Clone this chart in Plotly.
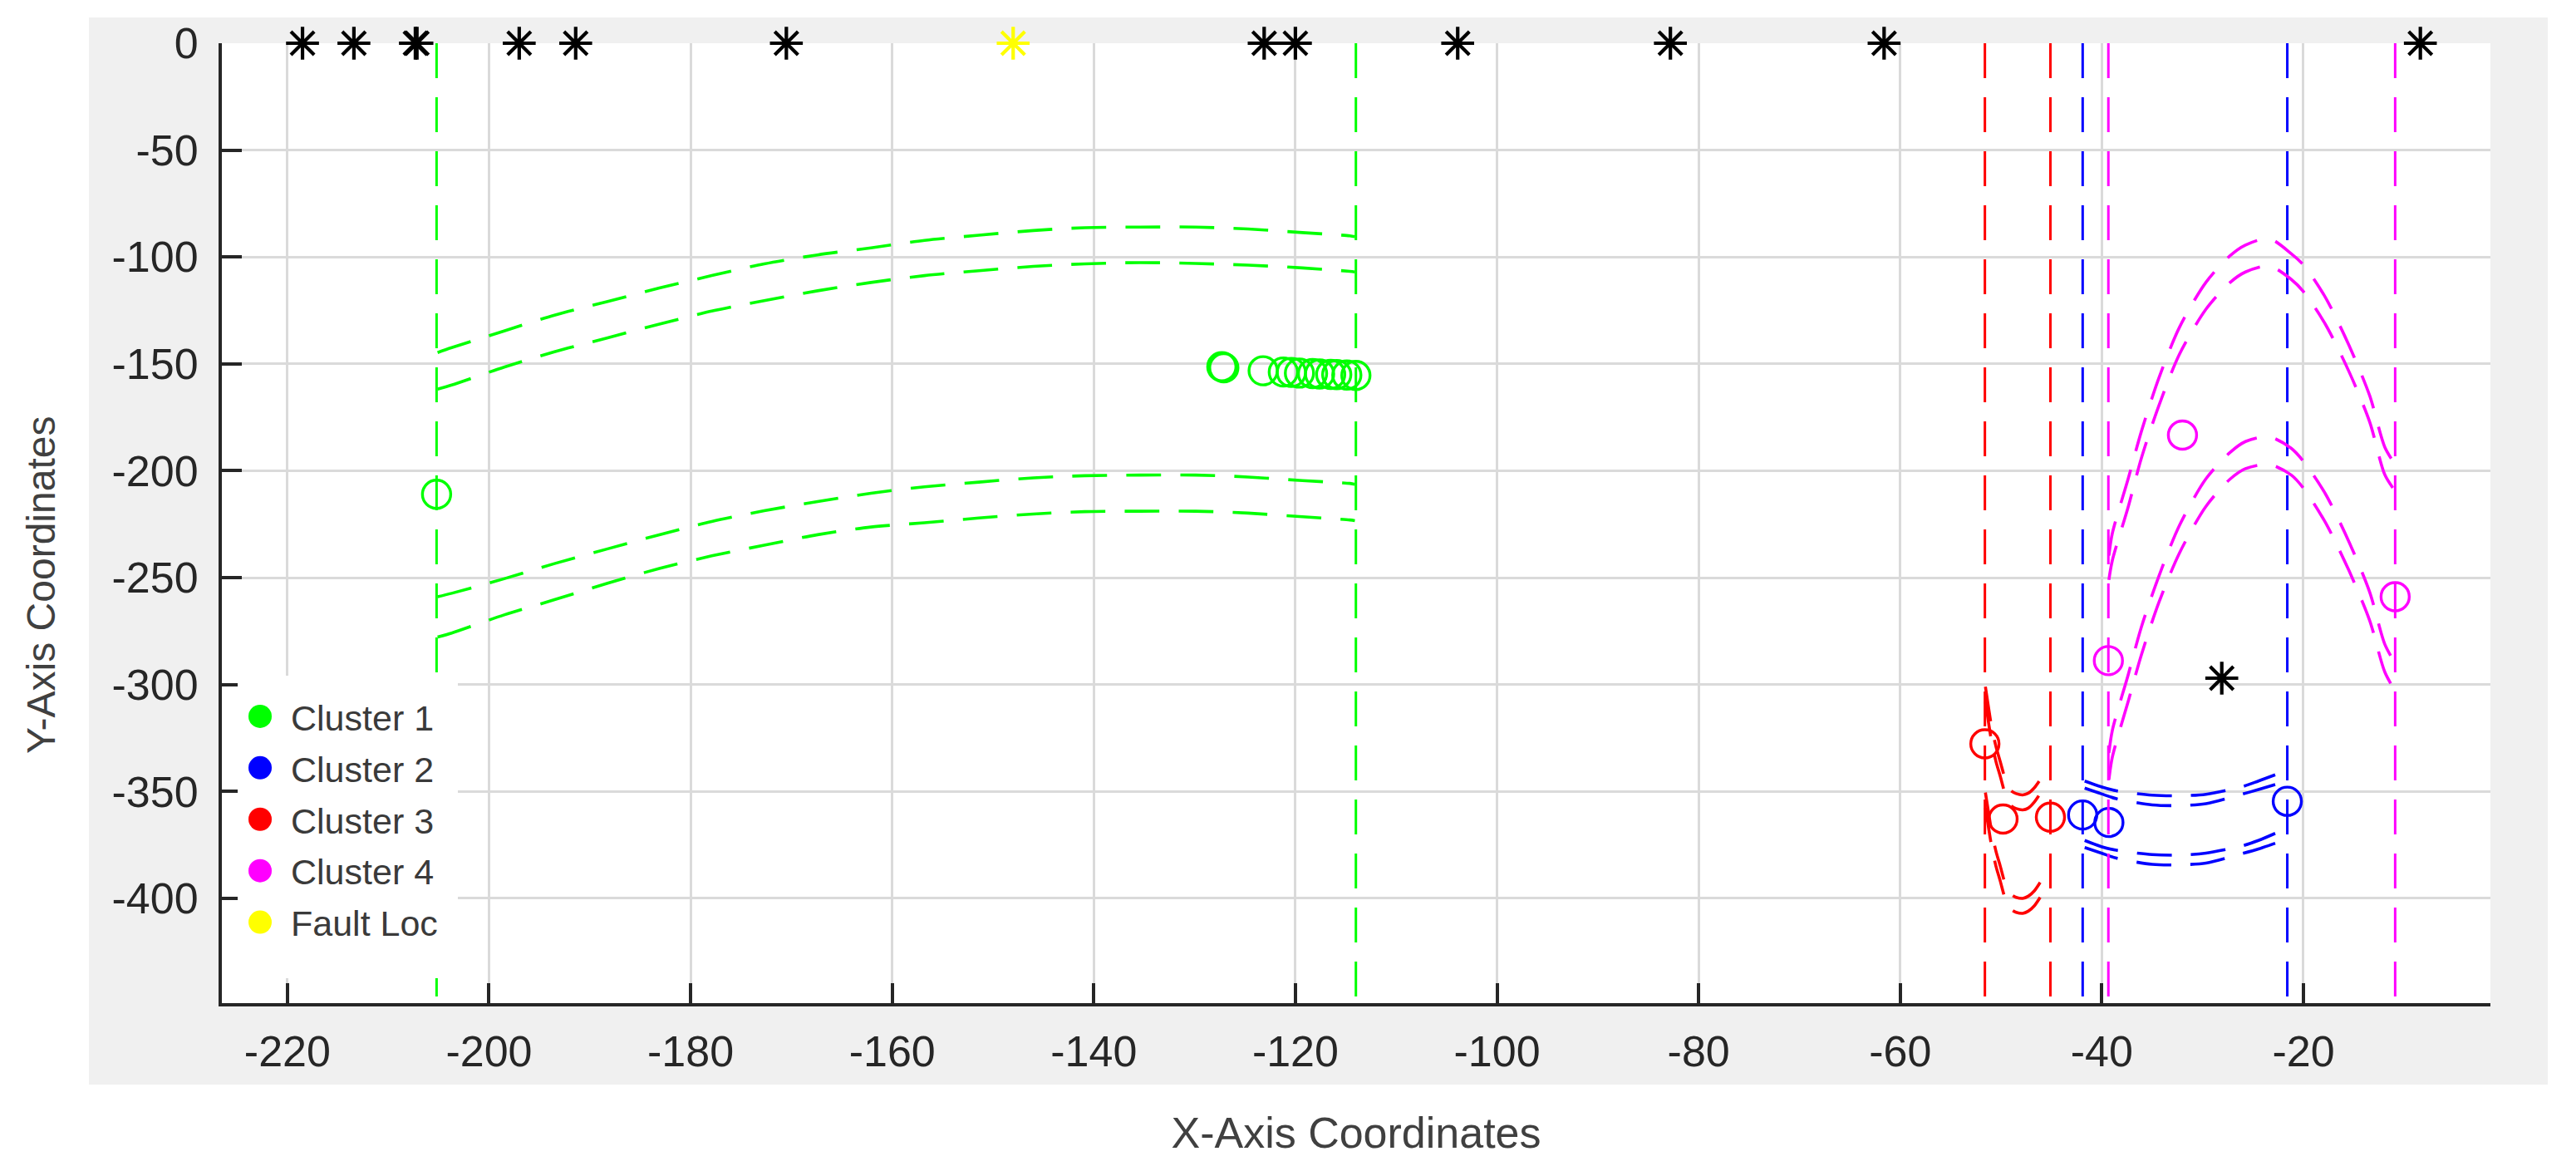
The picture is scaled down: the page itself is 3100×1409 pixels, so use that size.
import plotly.graph_objects as go

# ---------------- data ----------------
STAR_X = [-218.5, -213.4, -207.3, -207.15, -197.0, -191.4, -170.5, -123.1, -120.0,
          -103.9, -82.8, -61.6, -8.4, -28.1]
STAR_Y = [0, 0, 0, 0, 0, 0, 0, 0, 0, 0, 0, 0, 0, -297.0]
FAULT_X = [-148.0]
FAULT_Y = [0.0]

C1_X = [-205.2, -127.3, -127.1, -123.2, -121.2, -120.4, -119.6, -118.3, -117.6,
        -116.5, -115.9, -114.9, -114.0]
C1_Y = [-211.0, -151.3, -151.8, -153.2, -153.8, -154.0, -154.3, -154.5, -154.7,
        -154.9, -155.0, -155.2, -155.4]
C2_X = [-41.9, -39.3, -21.6]
C2_Y = [-361.0, -364.5, -354.6]
C3_X = [-51.6, -49.8, -45.1]
C3_Y = [-327.7, -362.9, -362.0]
C4_X = [-39.35, -32.0, -10.9]
C4_Y = [-288.8, -183.3, -258.9]

# cluster 1 bound curves
G_X = [-205.1, -203.7, -198.5, -193.5, -188.3, -183.1, -177.9, -172.7, -167.4, -162.1,
       -156.8, -151.4, -146.0, -140.9, -135.4, -129.9, -124.7, -119.3, -114.6, -114.1]
G_A = [-144.7, -142.4, -134.6, -127.2, -120.9, -114.5, -108.7, -103.2, -99.0, -95.7,
       -92.2, -89.8, -87.6, -86.3, -86.0, -86.0, -86.9, -88.6, -90.1, -90.5]
G_B = [-161.8, -159.9, -151.5, -144.3, -137.9, -131.4, -125.3, -120.4, -115.8, -111.9,
       -108.7, -106.4, -104.4, -103.2, -102.6, -103.0, -103.8, -105.1, -106.7, -107.0]
G_C = [-258.9, -257.3, -250.5, -243.4, -236.6, -229.9, -223.7, -218.7, -214.4, -210.5,
       -207.5, -205.3, -203.3, -202.3, -202.0, -202.0, -202.9, -204.6, -205.9, -206.3]
G_D = [-277.8, -275.9, -267.4, -260.3, -252.7, -245.7, -239.8, -234.8, -229.9, -226.3,
       -224.3, -222.1, -220.2, -219.1, -218.9, -218.9, -219.8, -221.5, -223.0, -223.3]

# cluster 2 bound curves
B_X = [-41.7, -40.05, -38.55, -35.0, -32.3, -29.66, -26.1, -24.46, -22.8]
B_1 = [-345.1, -347.8, -349.7, -351.7, -352.0, -351.3, -347.8, -345.1, -342.2]
B_2 = [-348.4, -351.1, -353.4, -356.3, -356.6, -355.7, -351.3, -349.1, -346.8]
B_3 = [-372.9, -375.8, -377.5, -379.5, -379.8, -378.8, -375.5, -372.9, -369.6]
B_4 = [-376.2, -378.8, -381.2, -384.1, -384.3, -383.5, -379.1, -376.9, -374.2]

# cluster 3 bound curves
R_X = [-51.55, -51.2, -50.9, -50.5, -50.07, -49.7, -49.38, -48.9, -48.5, -47.85,
       -47.3, -46.7, -46.05]
R_1 = [-301.0, -312.0, -320.6, -329.0, -336.2, -342.5, -347.5, -350.0, -351.0, -351.6,
       -350.8, -348.3, -344.0]
R_2 = [-308.0, -319.0, -327.5, -336.0, -343.0, -349.5, -354.5, -357.0, -358.0, -358.6,
       -357.8, -355.0, -350.5]
R_3 = [-350.5, -361.0, -369.5, -378.0, -385.0, -391.5, -396.0, -398.5, -399.5, -400.0,
       -399.0, -396.5, -392.0]
R_4 = [-357.5, -368.0, -376.5, -385.0, -392.0, -398.5, -403.0, -405.5, -406.5, -407.0,
       -406.0, -403.5, -399.0]

# cluster 4 bound curves
M_X = [-39.3, -38.96, -37.39, -36.07, -34.34, -32.3, -29.68, -27.3, -25.75, -23.4,
       -21.2, -19.94, -17.83, -15.47, -13.43, -11.92, -10.9]
M_1 = [-239.7, -229.3, -203.8, -181.5, -156.6, -132.9, -111.9, -99.5, -94.4, -91.4,
       -98.5, -104.0, -118.8, -141.4, -164.8, -189.0, -197.0]
M_2 = [-251.0, -242.0, -217.0, -194.0, -169.5, -145.5, -124.5, -112.0, -107.0, -104.2,
       -110.5, -116.5, -131.4, -153.7, -177.1, -201.9, -209.5]
M_3 = [-332.0, -321.5, -295.5, -273.0, -249.3, -225.6, -203.8, -191.5, -186.3, -184.1,
       -189.5, -195.9, -210.7, -233.3, -256.7, -281.2, -290.0]
M_4 = [-344.5, -334.0, -308.0, -286.0, -261.6, -238.5, -216.7, -204.0, -199.0, -197.0,
       -202.0, -208.5, -224.1, -246.8, -270.0, -294.2, -303.0]

X_RANGE = [-226.5, -1.45]
Y_RANGE = [-449.0, 0.0]
X_TICKS = [-220, -200, -180, -160, -140, -120, -100, -80, -60, -40, -20]
X_TICK_LABELS = ["-220", "-200", "-180", "-160", "-140", "-120", "-100", "-80", "-60", "-40", "-20"]
Y_TICKS = [-400, -350, -300, -250, -200, -150, -100, -50, 0]
Y_TICK_LABELS = ["-400", "-350", "-300", "-250", "-200", "-150", "-100", "-50", "0"]

NAMES = ["Cluster 1", "Cluster 2", "Cluster 3", "Cluster 4", "Fault Loc"]
COLORS = ["#00ff00", "#0000ff", "#ff0000", "#ff00ff", "#ffff00"]

# ---------------- figure ----------------
FONT = "Liberation Sans, Arial, Helvetica, sans-serif"
DASH = "42px,23px"
PAGE = 8                      # default body margin of the html page
W, H = 3100 - PAGE, 1409 - PAGE
L, T = 267 - PAGE, 52 - PAGE
PW, PH = 2730, 1155
R, B = W - L - PW, H - T - PH


def px_x(p):  # page pixel -> paper x
    return (p - PAGE - L) / PW


def px_y(p):  # page pixel -> paper y
    return (T + PH - (p - PAGE)) / PH


fig = go.Figure()

clusters = [
    (C1_X, C1_Y, COLORS[0], G_X, [G_A, G_B, G_C, G_D]),
    (C2_X, C2_Y, COLORS[1], B_X, [B_1, B_2, B_3, B_4]),
    (C3_X, C3_Y, COLORS[2], R_X, [R_1, R_2, R_3, R_4]),
    (C4_X, C4_Y, COLORS[3], M_X, [M_1, M_2, M_3, M_4]),
]

for cx, cy, col, bx, curves in clusters:
    lo, hi = min(cx), max(cx)
    fig.add_trace(go.Scatter(
        x=[lo, lo, None, hi, hi],
        y=[Y_RANGE[1], Y_RANGE[0], None, Y_RANGE[1], Y_RANGE[0]],
        mode="lines", line=dict(color=col, width=3, dash=DASH),
        showlegend=False, hoverinfo="skip"))
    for cv in curves:
        fig.add_trace(go.Scatter(
            x=bx, y=cv, mode="lines",
            line=dict(color=col, width=3.6, dash=DASH, shape="spline", smoothing=0.8),
            showlegend=False, hoverinfo="skip"))
    fig.add_trace(go.Scatter(
        x=cx, y=cy, mode="markers",
        marker=dict(symbol="circle-open", size=34, color=col, line=dict(width=3.4, color=col)),
        showlegend=False))

fig.add_trace(go.Scatter(
    x=STAR_X, y=STAR_Y, mode="markers", cliponaxis=False,
    marker=dict(symbol="asterisk-open", size=33, color="#000000", line=dict(width=4.2, color="#000000")),
    showlegend=False))
fig.add_trace(go.Scatter(
    x=FAULT_X, y=FAULT_Y, mode="markers", cliponaxis=False,
    marker=dict(symbol="asterisk-open", size=33, color=COLORS[4], line=dict(width=4.2, color=COLORS[4])),
    showlegend=False))

# legend entries (filled dots, as in the reference legend)
for i, (nm, col) in enumerate(zip(NAMES, COLORS)):
    fig.add_trace(go.Scatter(
        x=[None], y=[None], mode="markers", name=nm, legendgroup="g%d" % i,
        marker=dict(symbol="circle", size=16, color=col, line=dict(width=5, color=col))))

# legend geometry (page pixels)
LEG_FONT = 43
LEG_ITEMW = 64
LEG_GAP = 3
LEG_LEFT = 276
LEG_TOP = 827.5
ROW_H = LEG_FONT * 1.3 + 3
DOT_X = LEG_LEFT + 5 + LEG_ITEMW / 2
DOT_R = 14

shapes = [
    # grey figure panel
    dict(type="rect", xref="paper", yref="paper", layer="below",
         x0=px_x(107), x1=px_x(3066), y0=px_y(1305), y1=px_y(21),
         fillcolor="#f0f0f0", line=dict(width=0)),
    # white axes area
    dict(type="rect", xref="paper", yref="paper", layer="below",
         x0=0, x1=1, y0=0, y1=1, fillcolor="#ffffff", line=dict(width=0)),
    # legend box (covers what lies beneath it)
    dict(type="rect", xref="paper", yref="paper", layer="above",
         x0=px_x(286), x1=px_x(551), y0=px_y(1177), y1=px_y(813),
         fillcolor="#ffffff", line=dict(width=0)),
]
# larger legend dots underneath the (size-capped) legend symbols
for i, col in enumerate(COLORS):
    cyp = LEG_TOP + 5 + ROW_H / 2 + i * (ROW_H + LEG_GAP)
    shapes.append(dict(type="circle", xref="paper", yref="paper", layer="above",
                       x0=px_x(DOT_X - DOT_R), x1=px_x(DOT_X + DOT_R),
                       y0=px_y(cyp + DOT_R), y1=px_y(cyp - DOT_R),
                       fillcolor=col, line=dict(width=0)))

fig.update_layout(
    width=W, height=H, autosize=False,
    margin=dict(l=L, r=R, t=T, b=B, pad=0),
    paper_bgcolor="#ffffff", plot_bgcolor="#ffffff",
    font=dict(family=FONT, size=52, color="#262626"),
    shapes=shapes,
    showlegend=True,
    legend=dict(x=px_x(LEG_LEFT), xanchor="left", y=px_y(LEG_TOP), yanchor="top",
                bgcolor="rgba(0,0,0,0)", borderwidth=0, itemwidth=LEG_ITEMW,
                tracegroupgap=LEG_GAP, font=dict(family=FONT, size=LEG_FONT, color="#3a3a3a")),
    annotations=[
        dict(text="Y-Axis Coordinates", xref="paper", yref="paper",
             x=px_x(49), y=px_y(704), xanchor="center", yanchor="middle",
             textangle=-90, showarrow=False,
             font=dict(family=FONT, size=48, color="#404040")),
    ],
)

fig.update_xaxes(
    range=X_RANGE, tickmode="array", tickvals=X_TICKS, ticktext=X_TICK_LABELS,
    showgrid=True, gridcolor="#dadada", gridwidth=3, zeroline=False,
    showline=True, linecolor="#262626", linewidth=4, mirror=False,
    ticks="inside", ticklen=24, tickwidth=3.5, tickcolor="#262626",
    ticklabelstandoff=10, tickfont=dict(size=52, color="#262626", family=FONT),
    title=dict(text="X-Axis Coordinates", standoff=52,
               font=dict(size=52, color="#404040", family=FONT)),
    automargin=False,
)
fig.update_yaxes(
    range=Y_RANGE, tickmode="array", tickvals=Y_TICKS, ticktext=Y_TICK_LABELS,
    showgrid=True, gridcolor="#dadada", gridwidth=3, zeroline=False,
    showline=True, linecolor="#262626", linewidth=4, mirror=False,
    ticks="inside", ticklen=24, tickwidth=3.5, tickcolor="#262626",
    ticklabelstandoff=14, tickfont=dict(size=52, color="#262626", family=FONT),
    automargin=False,
)

fig.write_html("out.html")
